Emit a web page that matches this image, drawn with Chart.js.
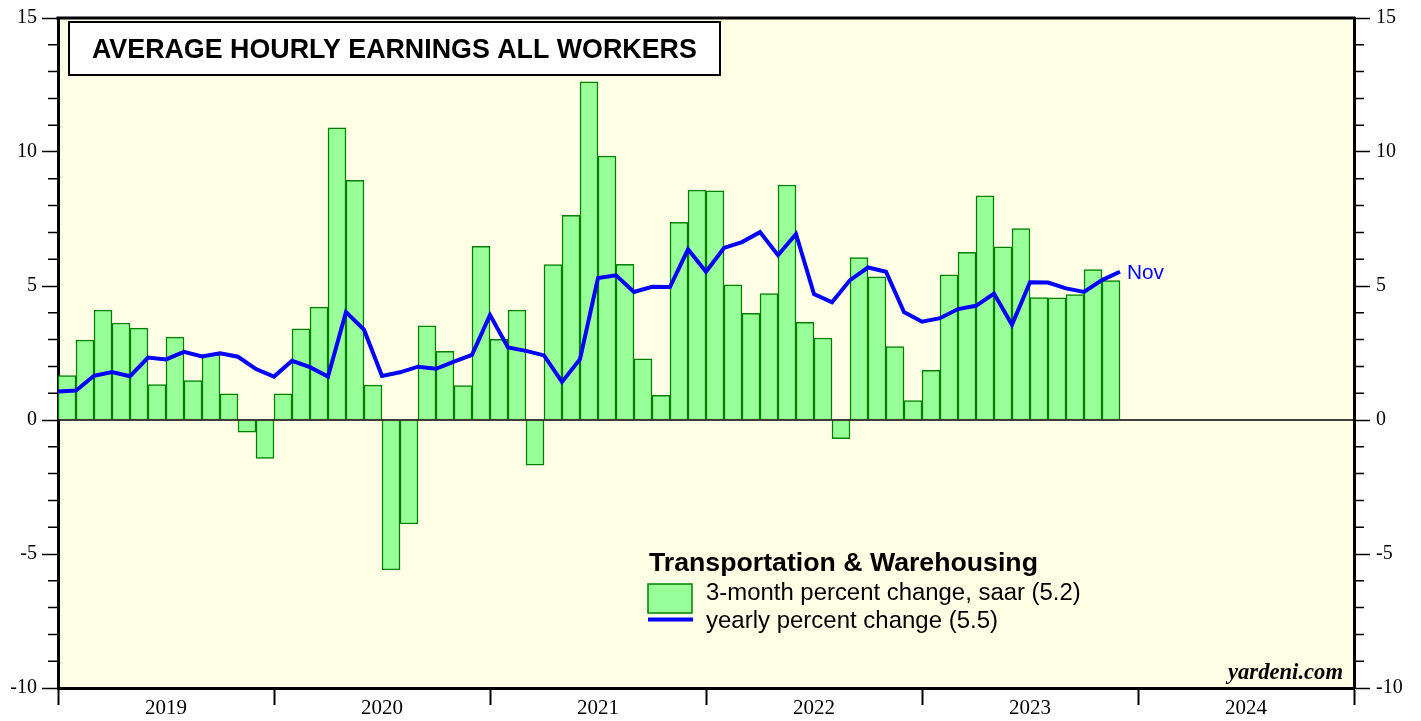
<!DOCTYPE html>
<html>
<head>
<meta charset="utf-8">
<script src="https://cdn.jsdelivr.net/npm/chart.js@4.4.0/dist/chart.umd.min.js"></script>
<style>
  body { margin: 0; background: #fff; }
  canvas { display: block; }
</style>
</head>
<body>
<canvas id="myChart" width="1421" height="721"></canvas>
<script>
// year labels on the x axis
var years = ['2019', '2020', '2021', '2022', '2023', '2024'];
var monthNames = ['Jan','Feb','Mar','Apr','May','Jun','Jul','Aug','Sep','Oct','Nov','Dec'];

// 3-month percent change, saar (Jan 2019 - Nov 2023)
var threeMonth = [
    1.66, 2.98, 4.10, 3.62, 3.43, 1.32, 3.09, 1.47, 2.43, 0.98, -0.45, -1.43,
    0.98, 3.40, 4.21, 10.90, 8.94, 1.30, -5.59, -3.88, 3.51, 2.56, 1.28, 6.48,
    3.01, 4.10, -1.69, 5.80, 7.64, 12.62, 9.85, 5.81, 2.28, 0.92, 7.38, 8.58,
    8.55, 5.04, 3.98, 4.72, 8.77, 3.64, 3.06, -0.70, 6.06, 5.34, 2.74, 0.72,
    1.85, 5.42, 6.26, 8.36, 6.46, 7.14, 4.57, 4.56, 4.68, 5.61, 5.20
];

// yearly percent change (Dec 2018 - Nov 2023), plotted at month end
var yearly = [
    1.06,
    1.10, 1.65, 1.79, 1.63, 2.33, 2.26, 2.54, 2.37, 2.49, 2.36, 1.90, 1.62,
    2.21, 1.97, 1.62, 4.03, 3.37, 1.64, 1.78, 1.99, 1.91, 2.18, 2.43, 3.92,
    2.71, 2.58, 2.41, 1.42, 2.27, 5.30, 5.40, 4.78, 4.97, 4.96, 6.37, 5.53,
    6.42, 6.64, 7.01, 6.15, 6.94, 4.70, 4.39, 5.22, 5.69, 5.53, 4.03, 3.67,
    3.80, 4.14, 4.26, 4.72, 3.55, 5.14, 5.13, 4.91, 4.78, 5.22, 5.53
];

var months = [];
for (var i = 0; i < years.length; i++) {
    for (var m = 0; m < 12; m++) {
        months.push(monthNames[m] + ' ' + years[i]);
    }
}
var yearlyPoints = yearly.map(function (v, k) { return { x: k, y: v }; });

var SANS = '"Liberation Sans", Arial, sans-serif';
var SERIF = '"Liberation Serif", "Times New Roman", serif';

// draw text fitted to a measured width
function fitText(ctx, text, x, y, width, style, family, align) {
    ctx.font = style + ' 20px ' + family;
    var size = 20 * width / ctx.measureText(text).width;
    ctx.font = style + ' ' + size.toFixed(2) + 'px ' + family;
    ctx.textAlign = align || 'left';
    ctx.textBaseline = 'alphabetic';
    ctx.fillText(text, x, y);
}

var deco = {
    id: 'deco',
    beforeDraw: function (chart) {
        var ctx = chart.ctx, a = chart.chartArea;
        ctx.save();
        ctx.fillStyle = '#ffffff';
        ctx.fillRect(0, 0, chart.width, chart.height);
        ctx.fillStyle = '#FFFFE6';
        ctx.fillRect(a.left, a.top, a.right - a.left, a.bottom - a.top);
        ctx.restore();
    },
    afterDatasetsDraw: function (chart) {
        var ctx = chart.ctx, a = chart.chartArea;
        var ys = chart.scales.y, xs = chart.scales.x2;
        ctx.save();
        ctx.strokeStyle = '#000';

        // zero line
        var y0 = ys.getPixelForValue(0);
        ctx.lineWidth = 1.5;
        ctx.beginPath();
        ctx.moveTo(a.left, y0);
        ctx.lineTo(a.right, y0);
        ctx.stroke();

        // minor ticks on both sides
        for (var v = -10; v <= 15; v++) {
            if (v % 5 === 0) continue;
            var yy = ys.getPixelForValue(v);
            ctx.beginPath();
            ctx.moveTo(a.left - 10, yy);
            ctx.lineTo(a.left, yy);
            ctx.moveTo(a.right, yy);
            ctx.lineTo(a.right + 10, yy);
            ctx.stroke();
        }

        // top border
        ctx.lineWidth = 3;
        ctx.beginPath();
        ctx.moveTo(a.left - 1.5, a.top);
        ctx.lineTo(a.right + 1.5, a.top);
        ctx.stroke();

        // title box
        ctx.fillStyle = '#fff';
        ctx.fillRect(69, 22, 651, 53);
        ctx.lineWidth = 2;
        ctx.strokeRect(69, 22, 651, 53);
        ctx.fillStyle = '#000';
        fitText(ctx, 'AVERAGE HOURLY EARNINGS ALL WORKERS', 92, 58, 605, 'bold', SANS);

        // legend
        fitText(ctx, 'Transportation & Warehousing', 649, 571, 389, 'bold', SANS);
        ctx.fillStyle = '#99FF99';
        ctx.fillRect(648, 584, 44, 29);
        ctx.strokeStyle = '#008000';
        ctx.lineWidth = 1.5;
        ctx.strokeRect(648, 584, 44, 29);
        ctx.strokeStyle = '#0000FF';
        ctx.lineWidth = 4;
        ctx.beginPath();
        ctx.moveTo(648, 619.5);
        ctx.lineTo(693, 619.5);
        ctx.stroke();
        ctx.fillStyle = '#000';
        fitText(ctx, '3-month percent change, saar (5.2)', 706, 600, 375, '', SANS);
        fitText(ctx, 'yearly percent change (5.5)', 706, 628, 292, '', SANS);

        // last point label
        var last = yearly.length - 1;
        ctx.fillStyle = '#0000FF';
        fitText(ctx, 'Nov', xs.getPixelForValue(last) + 7, ys.getPixelForValue(yearly[last]) + 7, 37, '', SANS);

        // source
        ctx.fillStyle = '#000';
        fitText(ctx, 'yardeni.com', 1343, 679, 115, 'italic bold', SERIF, 'right');
        ctx.restore();
    }
};

function majorColor(c) {
    return c.tick && c.tick.value % 5 === 0 ? '#000' : 'rgba(0,0,0,0)';
}

var ctx = document.getElementById('myChart').getContext('2d');
var chart = new Chart(ctx, {
    type: 'bar',
    data: {
        labels: months,
        datasets: [{
            type: 'line',
            label: 'yearly percent change (5.5)',
            data: yearlyPoints,
            xAxisID: 'x2',
            yAxisID: 'y',
            borderColor: '#0000FF',
            borderWidth: 4,
            pointRadius: 0,
            tension: 0,
            fill: false,
            order: 0
        }, {
            type: 'bar',
            label: '3-month percent change, saar (5.2)',
            data: threeMonth,
            xAxisID: 'x',
            yAxisID: 'y',
            backgroundColor: '#99FF99',
            borderColor: '#008000',
            borderWidth: 1.5,
            barPercentage: 1,
            categoryPercentage: 1,
            grouped: false,
            order: 1
        }]
    },
    options: {
        responsive: false,
        animation: false,
        maintainAspectRatio: false,
        layout: { padding: { top: 15, left: 0, right: 0, bottom: 0 } },
        plugins: { legend: { display: false }, tooltip: { enabled: false } },
        scales: {
            x: { type: 'category', display: false, offset: true },
            x2: {
                type: 'linear',
                position: 'bottom',
                min: 0,
                max: 72,
                offset: false,
                afterFit: function (s) { s.height = 33; },
                afterBuildTicks: function (s) {
                    var t = [];
                    for (var k = 0; k <= 72; k += 6) t.push({ value: k });
                    s.ticks = t;
                },
                ticks: {
                    autoSkip: false,
                    maxRotation: 0,
                    padding: -9,
                    color: '#000',
                    font: { family: SERIF, size: 21 },
                    callback: function (v) { return v % 12 === 6 ? years[(v - 6) / 12] : ''; }
                },
                grid: {
                    offset: false,
                    drawOnChartArea: false,
                    tickLength: 17,
                    tickWidth: 2,
                    tickColor: function (c) { return c.tick && c.tick.value % 12 === 0 ? '#000' : 'rgba(0,0,0,0)'; }
                },
                border: { display: true, width: 3, color: '#000' }
            },
            y: {
                position: 'left',
                min: -10,
                max: 15,
                afterFit: function (s) { s.width = 58; },
                ticks: {
                    stepSize: 1,
                    autoSkip: false,
                    padding: 5,
                    color: '#000',
                    font: { family: SERIF, size: 20 },
                    callback: function (v) { return v % 5 === 0 ? String(v) : ''; }
                },
                grid: { drawOnChartArea: false, tickLength: 16, tickWidth: 1.5, tickColor: majorColor },
                border: { display: true, width: 3, color: '#000' }
            },
            y2: {
                position: 'right',
                min: -10,
                max: 15,
                afterFit: function (s) { s.width = 67; },
                ticks: {
                    stepSize: 1,
                    autoSkip: false,
                    padding: 6,
                    color: '#000',
                    font: { family: SERIF, size: 20 },
                    callback: function (v) { return v % 5 === 0 ? String(v) : ''; }
                },
                grid: { drawOnChartArea: false, tickLength: 16, tickWidth: 1.5, tickColor: majorColor },
                border: { display: true, width: 3, color: '#000' }
            }
        }
    },
    plugins: [deco]
});
</script>
</body>
</html>
